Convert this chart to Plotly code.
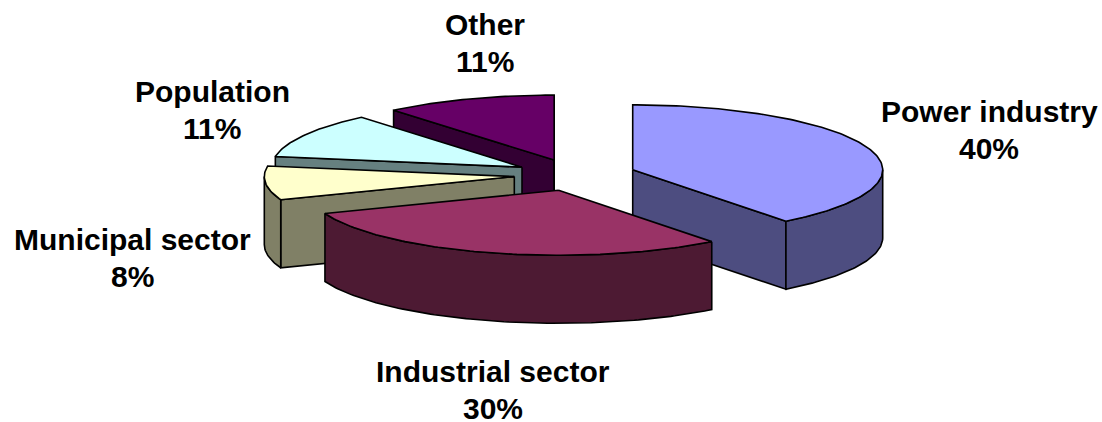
import math
import plotly.graph_objects as go

categories = ["Power industry", "Industrial sector", "Municipal sector", "Population", "Other"]
shares = [39.5, 29.7, 8.4, 11.3, 11.1]

top_colors = ["#9999FF", "#993366", "#FFFFCC", "#CCFFFF", "#660066"]
side_colors = ["#4D4D80", "#4D1A33", "#808066", "#668080", "#330033"]
label_xy = [(989, 111), (493, 371), (132, 239), (212, 91), (485, 24)]
draw_order = [4, 3, 2, 0, 1]
LINE_GAP = 37

CX, CY, RX, RY, DEPTH, EXPLODE = 575, 175, 250, 65, 68, 0.244
total = sum(shares)


def pt(c, a, dz=0):
    return c[0] + RX * math.sin(a), c[1] - RY * math.cos(a) + dz


def arc(c, a0, a1, dz=0):
    n = max(2, int(abs(a1 - a0) / math.radians(1)) + 1)
    return [pt(c, a0 + (a1 - a0) * i / (n - 1), dz) for i in range(n)]


def poly(points, color):
    pts = list(points) + [points[0]]
    return go.Scatter(
        x=[p[0] for p in pts], y=[p[1] for p in pts], mode="lines", fill="toself",
        fillcolor=color, line=dict(color="black", width=1.6), hoverinfo="skip",
        showlegend=False,
    )


slices = {}
start = 0.0
for i, s in enumerate(shares):
    end = start + 2 * math.pi * s / total
    slices[i] = (start, end)
    start = end

fig = go.Figure()
for i in draw_order:
    a0, a1 = slices[i]
    mid = (a0 + a1) / 2
    c = (CX + EXPLODE * RX * math.sin(mid), CY - EXPLODE * RY * math.cos(mid))
    side = side_colors[i]
    if math.sin(a0) < 0:
        p = pt(c, a0)
        fig.add_trace(poly([c, p, (p[0], p[1] + DEPTH), (c[0], c[1] + DEPTH)], side))
    if math.sin(a1) > 0:
        p = pt(c, a1)
        fig.add_trace(poly([c, p, (p[0], p[1] + DEPTH), (c[0], c[1] + DEPTH)], side))
    lo, hi = max(a0, math.pi / 2), min(a1, 3 * math.pi / 2)
    if hi > lo:
        fig.add_trace(poly(arc(c, lo, hi) + arc(c, hi, lo, DEPTH), side))
    fig.add_trace(poly([c] + arc(c, a0, a1), top_colors[i]))

for name, s, (x, y) in zip(categories, shares, label_xy):
    for text, yy in ((name, y), (f"{round(100 * s / total + 1e-9)}%", y + LINE_GAP)):
        fig.add_annotation(x=x, y=yy, text=f"<b>{text}</b>", showarrow=False,
                           xanchor="center", yanchor="middle",
                           font=dict(family="Liberation Sans", size=30, color="black"))

fig.update_layout(
    width=1102, height=422, margin=dict(l=0, r=0, t=0, b=0),
    paper_bgcolor="white", plot_bgcolor="white", showlegend=False,
    xaxis=dict(range=[0, 1102], visible=False, fixedrange=True),
    yaxis=dict(range=[422, 0], visible=False, fixedrange=True),
)
fig.write_html("out.html", config={"displayModeBar": False},
               post_script="document.body.style.margin='0';document.body.style.overflow='hidden';")
